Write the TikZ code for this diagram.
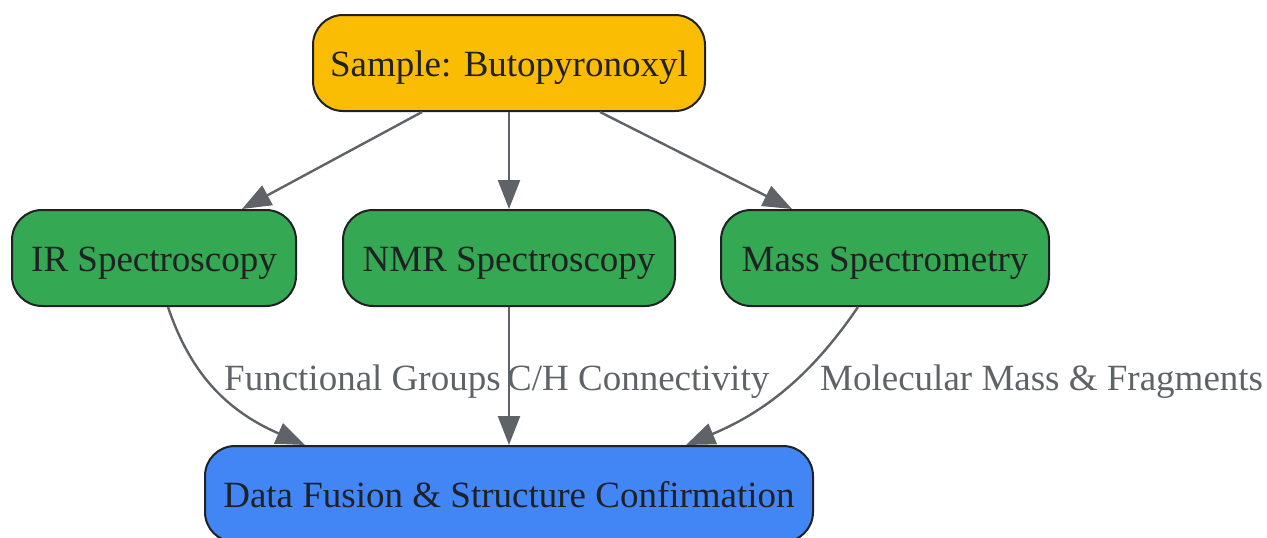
\documentclass[tikz,border=0pt]{standalone}
\usepackage{fontspec}
\setmainfont{Liberation Serif}
\usetikzlibrary{arrows.meta,calc}
\definecolor{gyellow}{HTML}{FBBC04}
\definecolor{ggreen}{HTML}{34A853}
\definecolor{gblue}{HTML}{4285F4}
\definecolor{gdark}{HTML}{202124}
\definecolor{ggray}{HTML}{5F6368}
\begin{document}
\begin{tikzpicture}[x=1pt,y=-1pt,
  box/.style={draw=gdark,line width=2pt,rounded corners=30pt,minimum height=96pt,
    text=gdark,font=\fontsize{37}{44}\selectfont,inner sep=0pt,text height=28pt,text depth=2pt},
  edge/.style={draw=ggray,line width=2.4pt,-{Triangle[length=29pt,width=22pt]}},
  elabel/.style={text=ggray,font=\fontsize{37}{44}\selectfont,inner sep=0pt,anchor=base west}]
\useasboundingbox (0,0) rectangle (1267,538);
\node[box,fill=gyellow,minimum width=392pt] (sample) at (509,63) {Sample: Butopyronoxyl};
\node[box,fill=ggreen,minimum width=284pt] (ir) at (154,258) {IR Spectroscopy};
\node[box,fill=ggreen,minimum width=332pt] (nmr) at (509,258) {NMR Spectroscopy};
\node[box,fill=ggreen,minimum width=328pt] (ms) at (885,258) {Mass Spectrometry};
\node[box,fill=gblue,minimum width=608pt] (fus) at (509,494) {Data Fusion \& Structure Confirmation};
\draw[edge] ($(sample.south)+(-87,0)$) -- ($(ir.north)+(88,0)$);
\draw[edge] (sample) -- (nmr);
\draw[edge] ($(sample.south)+(91,0)$) -- ($(ms.north)+(-93,0)$);
\draw[edge] ($(ir.south)+(14,0)$) .. controls (190,372) and (225,410) .. ($(fus.north)+(-204,0)$);
\draw[edge] (nmr) -- (fus);
\draw[edge] ($(ms.south)+(-27,0)$) .. controls (815,370) and (770,410) .. ($(fus.north)+(177,0)$);
\node[elabel] (l1) at (224,390) {Functional Groups};
\node[elabel] (l2) at (507,390) {C/H Connectivity};
\node[elabel] (l3) at (820,390) {Molecular Mass \& Fragments};
\end{tikzpicture}
\end{document}
